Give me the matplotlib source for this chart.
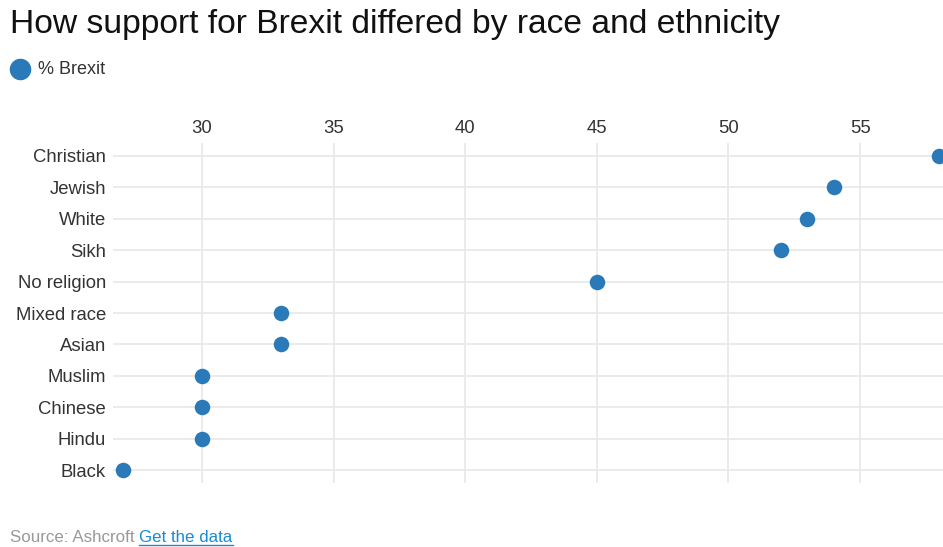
import matplotlib
matplotlib.use("Agg")
import matplotlib.pyplot as plt

categories = ["Christian", "Jewish", "White", "Sikh", "No religion", "Mixed race",
              "Asian", "Muslim", "Chinese", "Hindu", "Black"]
brexit_pct = [58, 54, 53, 52, 45, 33, 33, 30, 30, 30, 27]
x_ticks = [30, 35, 40, 45, 50, 55]

plt.rcParams['font.family'] = ['Liberation Sans', 'DejaVu Sans']

DOT = "#2a7ab9"
TXT = "#333333"
GRID = "#e8e8e8"

fig = plt.figure(figsize=(9.43, 5.47), dpi=100)
ax = fig.add_axes([113/943, (547-483)/547, 830/943, 340/547])

ypos = list(range(len(categories)))
ax.scatter(brexit_pct, ypos, s=125, color=DOT, zorder=3, clip_on=False, linewidths=0)

ax.set_xlim(26.62, 58.15)
ax.set_ylim(len(categories) - 1 + 0.4, -0.4)
ax.set_xticks(x_ticks)
ax.set_yticks(ypos)
ax.set_yticklabels(categories)
ax.xaxis.tick_top()
ax.tick_params(axis='x', length=0, pad=4.5, labelsize=13.3, labelcolor=TXT)
ax.tick_params(axis='y', length=0, pad=5, labelsize=13.3, labelcolor=TXT)
for s in ax.spines.values():
    s.set_visible(False)
ax.grid(True, color=GRID, linewidth=1.2, zorder=0)
ax.set_axisbelow(True)

fig.text(10/943, 1 - 25/547, "How support for Brexit differed by race and ethnicity",
         fontsize=24.2, color="#111111", va="center", ha="left")
fig.lines.append(plt.Line2D([20/943], [1 - 69/547], marker='o', markersize=14.5,
                            color=DOT, linestyle='none', transform=fig.transFigure))
fig.text(38/943, 1 - 69/547, "% Brexit", fontsize=13, color=TXT, va="center", ha="left")

t1 = fig.text(10/943, 1 - 538/547, "Source: Ashcroft ", fontsize=12.2, color="#999999",
              va="center", ha="left")
fig.canvas.draw()
bb = t1.get_window_extent()
x2 = bb.x1 / fig.bbox.width
t2 = fig.text(x2, 1 - 538/547, "Get the data", fontsize=12.2, color="#1a8ad4",
              va="center", ha="left")
fig.canvas.draw()
bb2 = t2.get_window_extent()
fig.lines.append(plt.Line2D([bb2.x0 / fig.bbox.width, bb2.x1 / fig.bbox.width],
                            [(bb2.y0 + 1) / fig.bbox.height] * 2, color="#1a8ad4",
                            linewidth=1, transform=fig.transFigure))

fig.savefig("out.png", dpi=100)
